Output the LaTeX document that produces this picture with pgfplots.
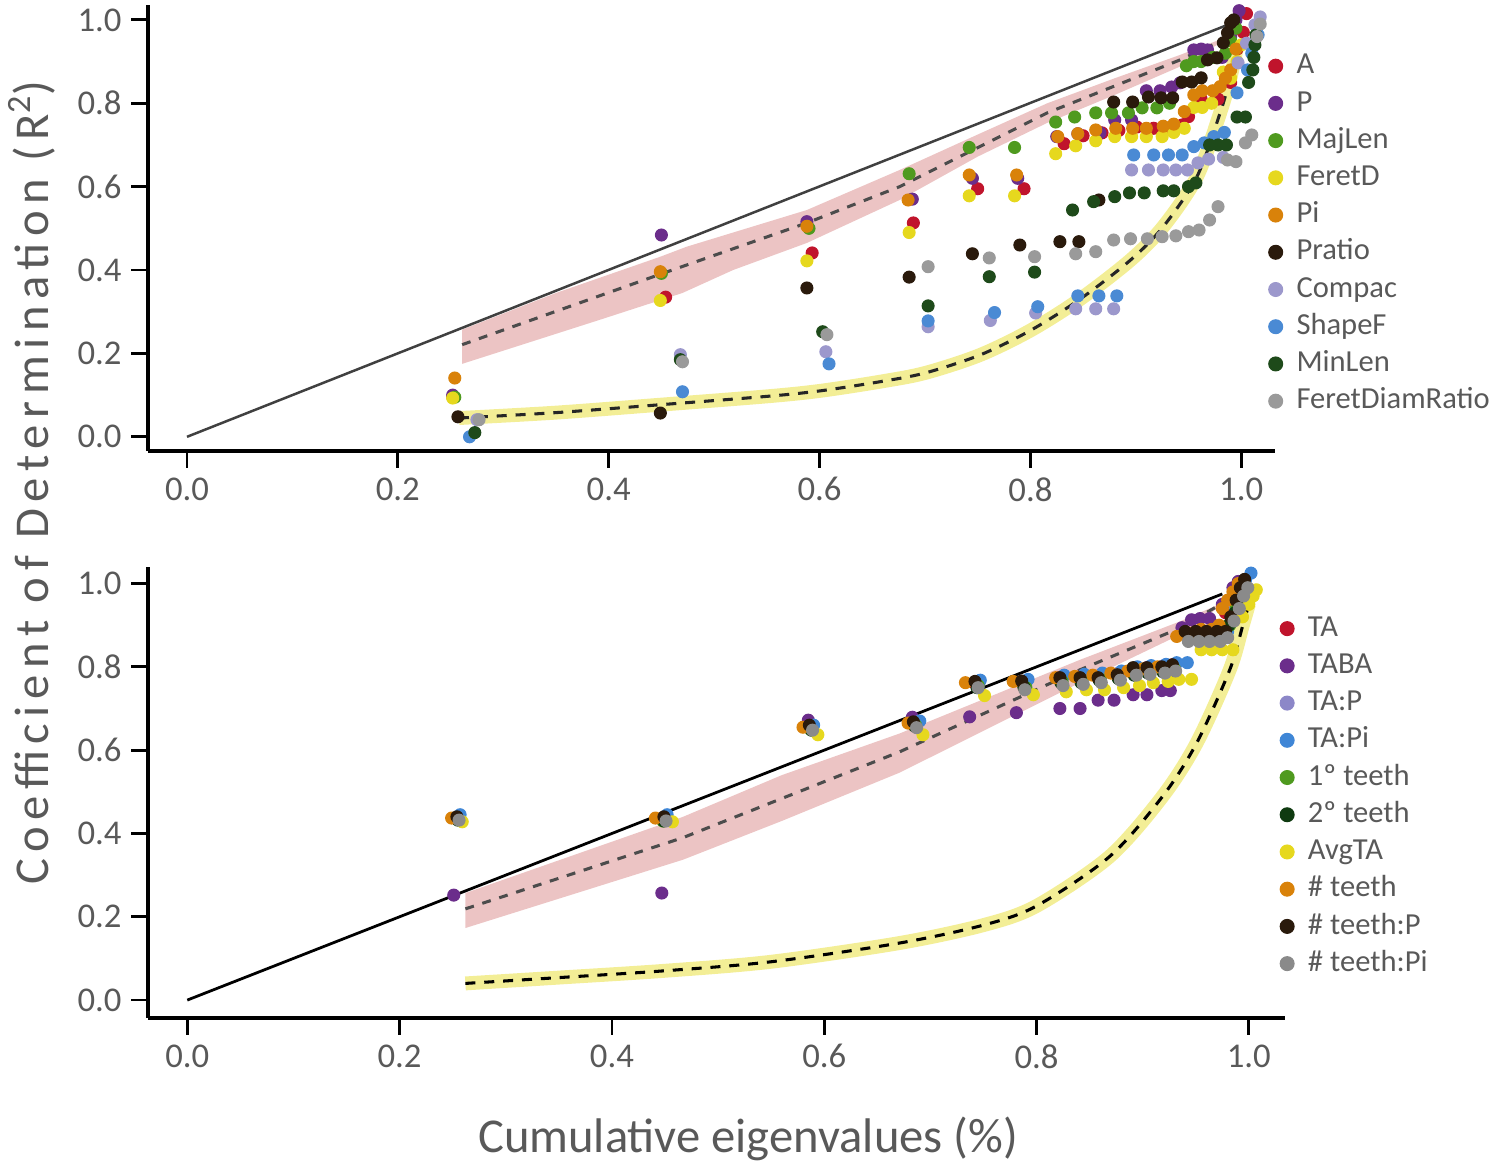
\documentclass[border=0pt]{standalone}
\usepackage{fontspec}
\setmainfont{Carlito}
\usepackage{pgfplots}
\pgfplotsset{compat=1.18}
\definecolor{txtgray}{HTML}{595959}
\definecolor{cA}{HTML}{C0142C}
\definecolor{cP}{HTML}{6B2D8B}
\definecolor{cMaj}{HTML}{4F9A1F}
\definecolor{cFer}{HTML}{E6D81E}
\definecolor{cPi}{HTML}{D9820A}
\definecolor{cPr}{HTML}{2A1A0C}
\definecolor{cCo}{HTML}{9C98CC}
\definecolor{cSh}{HTML}{4A8AD4}
\definecolor{cMin}{HTML}{1E4A1A}
\definecolor{cFDR}{HTML}{9A9A9A}
\definecolor{cTAP}{HTML}{8C87C8}
\definecolor{cTAPi}{HTML}{3F86D6}
\definecolor{c2t}{HTML}{0F3A10}
\definecolor{cTPi}{HTML}{8A8A8A}
\definecolor{pinkband}{RGB}{236,196,196}
\definecolor{yelband}{RGB}{243,238,150}
\pgfplotsset{
  myaxis/.style={
    scale only axis,
    axis x line*=bottom, axis y line*=left,
    axis line style={line width=1.1pt, black},
    tick align=outside,
    major tick length=6pt,
    tick style={line width=1pt, black},
    xtick={0,0.2,0.4,0.6,0.8,1}, ytick={0,0.2,0.4,0.6,0.8,1},
    xticklabel style={/pgf/number format/.cd, fixed, fixed zerofill, precision=1},
    yticklabel style={/pgf/number format/.cd, fixed, fixed zerofill, precision=1},
    /pgf/number format/assume math mode=true,
    ticklabel style={font=\fontsize{12.5}{14}\selectfont, text=txtgray},
    clip=false,
    legend style={draw=none, fill=none, anchor=north west,
      font=\fontsize{11}{13}\selectfont, text=txtgray,
      row sep=2.9pt,
      nodes={inner sep=0.5pt, text height=7.5pt, text depth=2pt},
      /tikz/every odd column/.append style={column sep=4.5pt}},
    legend cell align=left,
    legend image code/.code={\draw[#1, mark size=2.5pt] plot coordinates {(0pt,0pt)};},
  },
  pts/.style={only marks, mark=*, mark size=2.15pt, draw=none, fill=#1, color=#1},
}
\begin{document}
\begin{tikzpicture}
\useasboundingbox (0,0) rectangle (540pt,419.76pt);
% ================= TOP =================
\begin{axis}[myaxis, at={(53.28pt,257.4pt)}, anchor=south west,
  width=405.7pt, height=160.6pt,
  xmin=-0.037, xmax=1.032, ymin=-0.034, ymax=1.036,
  legend style={at={(0.9866,0.909)}}]
\addplot[fill=pinkband, draw=none, forget plot] coordinates {
 (0.261,0.257) (0.35,0.345) (0.449,0.432) (0.474,0.456) (0.588,0.544) (0.676,0.640) (0.750,0.725) (0.816,0.800) (0.880,0.860) (0.942,0.916) (0.977,0.950)
 (0.977,0.940) (0.942,0.888) (0.880,0.820) (0.816,0.753) (0.750,0.672) (0.676,0.568) (0.588,0.465) (0.518,0.400) (0.470,0.345) (0.392,0.281) (0.261,0.175)} -- cycle;
\addplot[yelband, line width=5pt, smooth, tension=0.5, forget plot] coordinates {
 (0.258,0.045) (0.35,0.058) (0.449,0.077) (0.55,0.097) (0.60,0.110) (0.657,0.132) (0.70,0.153) (0.752,0.196) (0.80,0.255) (0.847,0.330) (0.895,0.424) (0.926,0.504) (0.958,0.624) (0.980,0.777) (0.990,0.864) (0.996,0.935)};
\addplot[black!75, line width=0.9pt, forget plot] coordinates {(0,0) (0.987,0.988)};
\addplot[black!70, line width=1.1pt, dash pattern=on 3.2pt off 3.2pt, forget plot] coordinates {
 (0.261,0.221) (0.449,0.390) (0.588,0.513) (0.676,0.600) (0.816,0.777) (0.942,0.904) (0.977,0.945)};
\addplot[black!85, line width=1.1pt, dash pattern=on 3.6pt off 3.2pt, smooth, tension=0.5, forget plot] coordinates {
 (0.258,0.045) (0.35,0.058) (0.449,0.077) (0.55,0.097) (0.60,0.110) (0.657,0.132) (0.70,0.153) (0.752,0.196) (0.80,0.255) (0.847,0.330) (0.895,0.424) (0.926,0.504) (0.958,0.624) (0.980,0.777) (0.990,0.864) (0.996,0.935)};
% A
\addplot[pts=cA] coordinates {(0.252,0.096) (0.454,0.335) (0.593,0.441) (0.689,0.513) (0.750,0.595) (0.794,0.595) (0.832,0.703) (0.850,0.722) (0.868,0.729) (0.884,0.735) (0.901,0.743) (0.917,0.740) (0.930,0.740) (0.944,0.748) (0.950,0.768) (0.962,0.810) (0.978,0.810) (0.990,0.850) (0.996,0.930) (1.002,0.970) (1.005,1.015)};
\addlegendentry{A}
% P
\addplot[pts=cP] coordinates {(0.252,0.100) (0.450,0.484) (0.588,0.516) (0.688,0.570) (0.745,0.620) (0.788,0.620) (0.825,0.720) (0.845,0.727) (0.866,0.729) (0.880,0.760) (0.896,0.760) (0.910,0.830) (0.923,0.830) (0.934,0.839) (0.942,0.849) (0.955,0.928) (0.962,0.930) (0.968,0.928) (0.982,0.910) (0.990,0.960) (0.995,1.000) (0.998,1.022)};
\addlegendentry{P}
% MajLen
\addplot[pts=cMaj] coordinates {(0.254,0.095) (0.450,0.392) (0.590,0.500) (0.685,0.631) (0.742,0.694) (0.785,0.694) (0.824,0.755) (0.842,0.767) (0.862,0.777) (0.877,0.777) (0.893,0.777) (0.906,0.789) (0.920,0.789) (0.932,0.800) (0.948,0.890) (0.955,0.900) (0.962,0.900) (0.973,0.910) (0.985,0.920) (0.990,0.950) (0.995,0.980)};
\addlegendentry{MajLen}
% FeretD
\addplot[pts=cFer] coordinates {(0.252,0.093) (0.449,0.327) (0.588,0.422) (0.685,0.490) (0.742,0.578) (0.785,0.578) (0.824,0.679) (0.843,0.698) (0.862,0.710) (0.880,0.720) (0.896,0.720) (0.910,0.720) (0.925,0.720) (0.936,0.730) (0.946,0.740) (0.955,0.790) (0.963,0.790) (0.972,0.800) (0.983,0.875) (0.990,0.860) (0.996,0.900) (1.000,0.940)};
\addlegendentry{FeretD}
% Pi
\addplot[pts=cPi] coordinates {(0.254,0.141) (0.449,0.396) (0.588,0.505) (0.684,0.568) (0.742,0.628) (0.787,0.628) (0.826,0.720) (0.845,0.727) (0.862,0.736) (0.881,0.740) (0.897,0.740) (0.910,0.740) (0.926,0.745) (0.936,0.750) (0.946,0.780) (0.955,0.820) (0.963,0.830) (0.973,0.830) (0.980,0.840) (0.985,0.860) (0.990,0.880) (0.995,0.930)};
\addlegendentry{Pi}
% Pratio
\addplot[pts=cPr] coordinates {(0.257,0.048) (0.449,0.057) (0.588,0.357) (0.685,0.383) (0.745,0.439) (0.790,0.460) (0.828,0.468) (0.846,0.468) (0.865,0.568) (0.879,0.803) (0.897,0.803) (0.912,0.815) (0.924,0.813) (0.935,0.813) (0.944,0.851) (0.953,0.851) (0.962,0.861) (0.968,0.904) (0.977,0.909) (0.983,0.945) (0.987,0.969) (0.990,0.993) (0.993,1.000)};
\addlegendentry{Pratio}
% Compac
\addplot[pts=cCo] coordinates {(0.275,0.041) (0.468,0.197) (0.606,0.204) (0.703,0.264) (0.762,0.279) (0.805,0.297) (0.843,0.307) (0.862,0.307) (0.879,0.307) (0.896,0.640) (0.912,0.640) (0.926,0.640) (0.938,0.640) (0.949,0.640) (0.959,0.657) (0.969,0.666) (0.983,0.670) (0.997,0.897) (1.005,0.944) (1.013,0.988) (1.018,1.007)};
\addlegendentry{Compac}
% ShapeF
\addplot[pts=cSh] coordinates {(0.268,0.000) (0.470,0.108) (0.609,0.175) (0.703,0.278) (0.766,0.298) (0.807,0.312) (0.845,0.338) (0.865,0.338) (0.882,0.338) (0.898,0.676) (0.917,0.676) (0.931,0.676) (0.944,0.676) (0.955,0.696) (0.965,0.705) (0.974,0.720) (0.984,0.730) (0.996,0.825) (1.006,0.880) (1.010,0.920) (1.016,0.964)};
\addlegendentry{ShapeF}
% MinLen
\addplot[pts=cMin] coordinates {(0.273,0.010) (0.468,0.185) (0.603,0.252) (0.703,0.314) (0.761,0.384) (0.804,0.395) (0.840,0.544) (0.860,0.564) (0.880,0.576) (0.894,0.585) (0.908,0.585) (0.926,0.590) (0.936,0.590) (0.950,0.600) (0.957,0.609) (0.970,0.700) (0.978,0.700) (0.986,0.700) (0.996,0.767) (1.004,0.767) (1.007,0.850) (1.011,0.880) (1.012,0.910) (1.013,0.940) (1.014,0.964)};
\addlegendentry{MinLen}
% FeretDiamRatio
\addplot[pts=cFDR] coordinates {(0.277,0.041) (0.470,0.180) (0.607,0.245) (0.703,0.408) (0.761,0.429) (0.804,0.432) (0.843,0.439) (0.862,0.444) (0.879,0.472) (0.895,0.475) (0.911,0.475) (0.925,0.480) (0.938,0.482) (0.950,0.492) (0.960,0.496) (0.970,0.520) (0.978,0.552) (0.987,0.664) (0.995,0.660) (1.004,0.705) (1.010,0.724) (1.015,0.960) (1.018,0.990)};
\addlegendentry{FeretDiamRatio}
\end{axis}
% ================= BOTTOM =================
\begin{axis}[myaxis, at={(53.28pt,53.28pt)}, anchor=south west,
  width=409.3pt, height=162.4pt,
  xmin=-0.037, xmax=1.034, ymin=-0.043, ymax=1.04,
  legend style={at={(0.988,0.909)}}]
\addplot[fill=pinkband, draw=none, forget plot] coordinates {
 (0.262,0.257) (0.467,0.440) (0.560,0.540) (0.671,0.640) (0.841,0.817) (0.935,0.909) (0.970,0.948)
 (0.970,0.940) (0.935,0.877) (0.841,0.762) (0.671,0.546) (0.560,0.430) (0.467,0.337) (0.262,0.173)} -- cycle;
\addplot[yelband, line width=5pt, smooth, tension=0.5, forget plot] coordinates {
 (0.262,0.040) (0.35,0.054) (0.448,0.070) (0.55,0.092) (0.671,0.137) (0.75,0.180) (0.80,0.226) (0.869,0.345) (0.919,0.490) (0.951,0.618) (0.982,0.793) (0.994,0.897) (1.000,0.950)};
\addplot[black, line width=1pt, forget plot] coordinates {(0,0) (0.975,0.975)};
\addplot[black!70, line width=1.1pt, dash pattern=on 3.2pt off 3.2pt, forget plot] coordinates {
 (0.262,0.219) (0.467,0.390) (0.671,0.596) (0.841,0.793) (0.935,0.893) (0.970,0.945)};
\addplot[black, line width=1.1pt, dash pattern=on 3.6pt off 3.2pt, smooth, tension=0.5, forget plot] coordinates {
 (0.262,0.040) (0.35,0.054) (0.448,0.070) (0.55,0.092) (0.671,0.137) (0.75,0.180) (0.80,0.226) (0.869,0.345) (0.919,0.490) (0.951,0.618) (0.982,0.793) (0.994,0.897) (1.000,0.950)};
% TA
\addplot[pts=cA] coordinates {(0.254,0.437) (0.448,0.435) (0.586,0.655) (0.684,0.665) (0.742,0.760) (0.786,0.765) (0.822,0.774) (0.841,0.776) (0.858,0.778) (0.876,0.783) (0.891,0.795) (0.904,0.798) (0.918,0.800) (0.928,0.805) (0.940,0.880) (0.950,0.885) (0.960,0.885) (0.970,0.890) (0.978,0.930) (0.985,0.960) (0.990,0.980) (0.995,1.000)};
\addlegendentry{TA}
% TABA
\addplot[pts=cP] coordinates {(0.251,0.252) (0.447,0.257) (0.585,0.672) (0.683,0.679) (0.737,0.680) (0.781,0.690) (0.822,0.700) (0.841,0.700) (0.858,0.720) (0.873,0.720) (0.891,0.733) (0.904,0.733) (0.918,0.743) (0.926,0.743) (0.937,0.894) (0.946,0.913) (0.954,0.916) (0.963,0.916) (0.975,0.950) (0.985,0.990) (0.990,1.005)};
\addlegendentry{TABA}
% TA:P
\addplot[pts=cTAP] coordinates {(0.256,0.440) (0.450,0.440) (0.588,0.657) (0.688,0.667) (0.746,0.762) (0.790,0.765) (0.825,0.776) (0.844,0.778) (0.861,0.780) (0.878,0.786) (0.893,0.796) (0.906,0.800) (0.920,0.803) (0.931,0.806) (0.941,0.880) (0.951,0.882) (0.961,0.882) (0.971,0.882) (0.980,0.890) (0.987,0.940) (0.992,0.980) (0.996,1.000)};
\addlegendentry{TA:P}
% TA:Pi
\addplot[pts=cTAPi] coordinates {(0.257,0.445) (0.452,0.445) (0.590,0.660) (0.690,0.670) (0.747,0.768) (0.792,0.770) (0.826,0.780) (0.845,0.782) (0.862,0.785) (0.880,0.790) (0.895,0.800) (0.908,0.803) (0.922,0.806) (0.932,0.810) (0.942,0.810) (0.952,0.880) (0.962,0.885) (0.972,0.885) (0.980,0.885) (0.988,0.950) (0.993,0.990) (0.997,1.010) (1.002,1.025)};
\addlegendentry{TA:Pi}
% 1o teeth
\addplot[pts=cMaj] coordinates {(0.254,0.435) (0.448,0.430) (0.587,0.650) (0.686,0.660) (0.745,0.755) (0.790,0.750) (0.824,0.765) (0.843,0.765) (0.860,0.770) (0.878,0.775) (0.893,0.785) (0.906,0.790) (0.920,0.790) (0.930,0.795) (0.945,0.870) (0.955,0.875) (0.965,0.875) (0.975,0.880) (0.982,0.900) (0.988,0.940) (0.993,0.970) (0.997,0.990)};
\addlegendentry{1º teeth}
% 2o teeth
\addplot[pts=c2t] coordinates {(0.255,0.432) (0.449,0.430) (0.588,0.648) (0.685,0.658) (0.744,0.750) (0.788,0.752) (0.823,0.762) (0.842,0.762) (0.859,0.768) (0.877,0.772) (0.892,0.780) (0.905,0.785) (0.919,0.788) (0.929,0.790) (0.944,0.870) (0.954,0.872) (0.964,0.875) (0.974,0.880) (0.981,0.900) (0.987,0.930) (0.992,0.960) (0.996,0.980)};
\addlegendentry{2º teeth}
% AvgTA
\addplot[pts=cFer] coordinates {(0.259,0.428) (0.457,0.428) (0.594,0.637) (0.693,0.637) (0.751,0.731) (0.797,0.733) (0.828,0.740) (0.847,0.745) (0.864,0.745) (0.882,0.750) (0.897,0.755) (0.910,0.762) (0.924,0.765) (0.934,0.770) (0.946,0.770) (0.955,0.841) (0.965,0.841) (0.975,0.841) (0.985,0.841) (0.994,0.920) (1.000,0.950) (1.004,0.970) (1.007,0.985)};
\addlegendentry{AvgTA}
% # teeth
\addplot[pts=cPi] coordinates {(0.249,0.437) (0.441,0.437) (0.580,0.655) (0.679,0.665) (0.733,0.762) (0.778,0.765) (0.818,0.774) (0.836,0.777) (0.853,0.780) (0.870,0.785) (0.886,0.790) (0.900,0.795) (0.914,0.800) (0.932,0.873) (0.945,0.880) (0.955,0.890) (0.965,0.890) (0.972,0.900) (0.975,0.940) (0.980,0.960) (0.985,0.980) (0.990,1.000)};
\addlegendentry{\# teeth}
% # teeth:P
\addplot[pts=cPr] coordinates {(0.254,0.440) (0.449,0.440) (0.586,0.660) (0.684,0.668) (0.742,0.765) (0.786,0.766) (0.822,0.774) (0.841,0.774) (0.858,0.774) (0.876,0.781) (0.891,0.798) (0.904,0.798) (0.918,0.800) (0.928,0.805) (0.940,0.885) (0.950,0.885) (0.960,0.885) (0.970,0.885) (0.978,0.885) (0.983,0.920) (0.988,0.960) (0.992,0.990) (0.996,1.010)};
\addlegendentry{\# teeth:P}
% # teeth:Pi
\addplot[pts=cTPi] coordinates {(0.256,0.432) (0.451,0.430) (0.589,0.648) (0.687,0.654) (0.745,0.750) (0.789,0.745) (0.825,0.755) (0.844,0.758) (0.861,0.762) (0.879,0.768) (0.894,0.780) (0.907,0.782) (0.921,0.785) (0.931,0.790) (0.943,0.861) (0.953,0.861) (0.963,0.861) (0.973,0.861) (0.980,0.870) (0.986,0.910) (0.991,0.940) (0.995,0.970) (0.999,0.990)};
\addlegendentry{\# teeth:Pi}
\end{axis}
\node[rotate=90, text=txtgray, font=\fontsize{17.5}{20}\selectfont\addfontfeature{LetterSpace=13.5}] at (11.5pt,246pt) {Coefficient of Determination (R\textsuperscript{2})};
\node[text=txtgray, font=\fontsize{17.5}{20}\selectfont] at (269.3pt,9.7pt) {Cumulative eigenvalues (\%)};
\end{tikzpicture}
\end{document}
